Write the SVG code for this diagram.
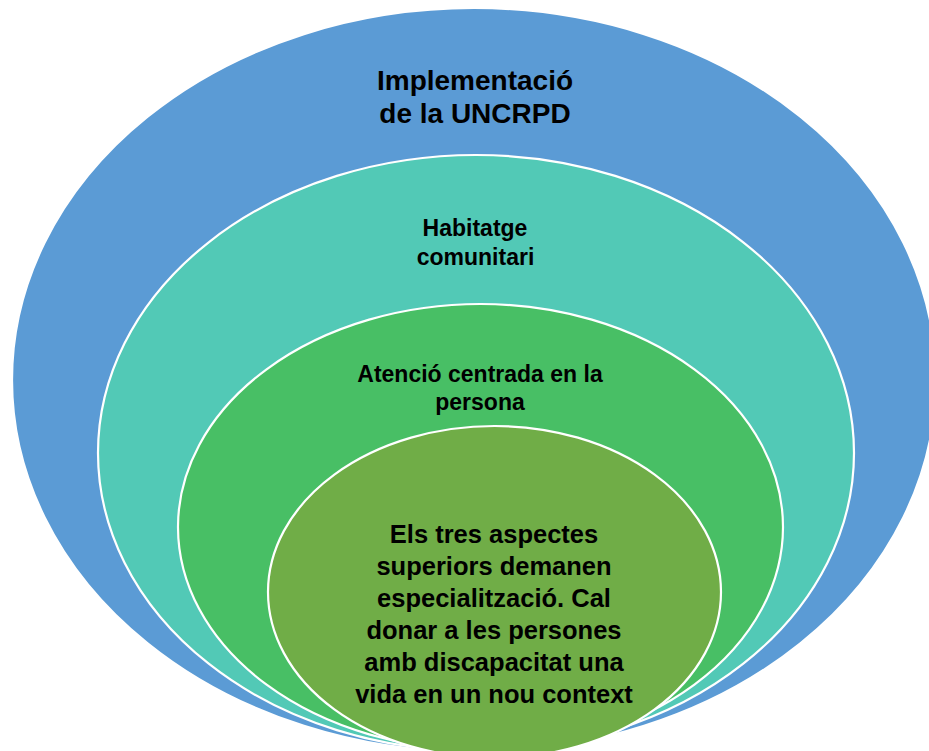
<svg xmlns="http://www.w3.org/2000/svg" width="929" height="751" viewBox="0 0 929 751">
<style>
.ring{stroke:#ffffff;stroke-width:2.2}
.t{font-family:"Liberation Sans",Arial,sans-serif;font-weight:bold;fill:#000000;text-anchor:middle}
</style>
<rect width="929" height="751" fill="#ffffff"/>
<g id="node-uncrpd">
<ellipse class="ring" cx="474" cy="380" rx="462" ry="372" fill="#5B9BD5"/>
<text class="t" font-size="28" x="475" y="90">Implementació</text>
<text class="t" font-size="28" x="475" y="123">de la UNCRPD</text>
</g>
<g id="node-habitatge">
<ellipse class="ring" cx="476" cy="453" rx="378" ry="298" fill="#52C9B6"/>
<text class="t" font-size="23" x="475" y="236">Habitatge</text>
<text class="t" font-size="23" x="475.5" y="265">comunitari</text>
</g>
<g id="node-atencio">
<ellipse class="ring" cx="480.5" cy="527" rx="302.5" ry="223" fill="#48BF65"/>
<text class="t" font-size="23" x="480" y="382">Atenció centrada en la</text>
<text class="t" font-size="23" x="480" y="410">persona</text>
</g>
<g id="node-aspectes">
<ellipse class="ring" cx="494.5" cy="592" rx="226.5" ry="166" fill="#70AD47"/>
<text class="t" font-size="25.5" x="494" y="543">Els tres aspectes</text>
<text class="t" font-size="25.5" x="494" y="575">superiors demanen</text>
<text class="t" font-size="25.5" x="494" y="607">especialització. Cal</text>
<text class="t" font-size="25.5" x="494" y="639">donar a les persones</text>
<text class="t" font-size="25.5" x="494" y="671">amb discapacitat una</text>
<text class="t" font-size="25.5" x="494" y="703">vida en un nou context</text>
</g>
<g id="connectors"/>
</svg>
